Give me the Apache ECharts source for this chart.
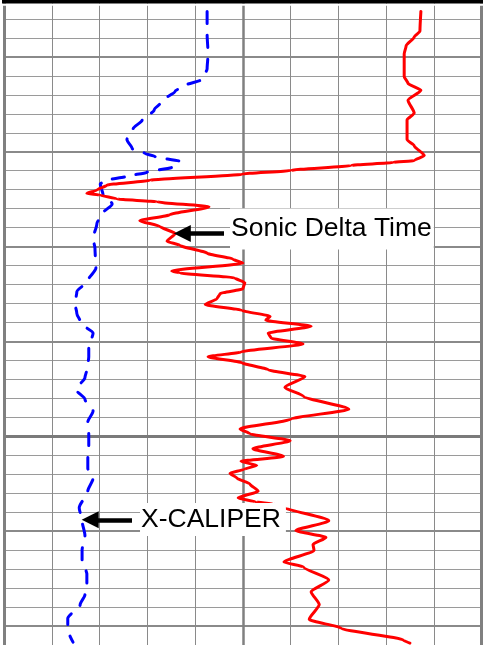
<!DOCTYPE html>
<html><head><meta charset="utf-8">
<script src="https://cdn.jsdelivr.net/npm/echarts@6/dist/echarts.min.js"></script>
<style>html,body{margin:0;padding:0;background:#fff}#c{width:483px;height:645px}</style>
</head><body><div id="c"></div>
<script>
// Depth in track units (one unit per horizontal grid line)
const caliperDepth = [2.60,3.80,4.84,5.62,6.19,6.50,6.81,7.28,7.80,8.32,8.79,9.36,9.83,10.09,10.25,10.51,10.82,11.08,11.29,11.50,11.70,12.28,12.75,13.27,13.79,14.57,15.09,16.13,16.80,17.38,18.00,18.52,19.04,19.56,20.29,20.81,21.49,21.90,22.53,23.05,23.67,24.24,24.92,25.54,26.17,26.69,27.21,27.89,28.77,29.45,30.23,31.01,31.53,32.26,32.78,33.35,33.87,34.60,35.17,35.85];
// X-CALIPER, inches (track 6 - 16)
const caliperValue = [10.25,10.25,10.27,10.25,10.14,9.79,9.58,9.33,9.14,8.89,8.70,8.57,8.68,8.95,9.16,9.68,9.51,8.99,8.57,8.15,8.01,8.07,8.26,8.05,7.94,7.86,7.90,7.92,7.75,7.52,7.48,7.52,7.61,7.86,7.77,7.77,7.73,7.69,7.50,7.69,7.86,7.75,7.77,7.77,7.75,7.75,7.86,7.75,7.57,7.63,7.69,7.63,7.63,7.73,7.73,7.69,7.59,7.33,7.33,7.44];

const sonicDepth = [2.60,3.64,3.95,4.42,4.84,6.03,6.40,6.76,7.28,7.96,8.32,9.36,9.68,10.20,10.46,10.56,10.72,10.98,11.18,11.50,11.76,12.02,12.20,12.28,12.49,12.64,12.90,13.32,13.63,13.94,14.31,14.72,14.93,15.35,15.66,15.87,16.28,16.39,16.65,16.91,17.22,17.48,17.74,18.05,18.36,18.68,18.88,19.20,19.56,19.82,20.13,20.55,20.81,21.12,21.49,21.85,22.42,22.89,23.57,24.09,24.61,24.87,25.23,25.65,26.06,26.32,26.53,26.74,26.95,27.21,27.52,27.89,28.25,28.46,28.56,28.72,29.45,29.97,30.33,30.70,31.01,31.63,31.89,32.57,33.19,33.87,34.65,35.12,35.74,35.90];
// Sonic Delta Time (track 40 - 140)
const sonicValue = [127.3,127.1,125.9,124.2,123.8,123.8,124.6,127.3,124.6,125.9,124.4,124.4,125.9,128.0,125.9,121.5,112.7,100.1,89.8,70.5,61.5,59.4,57.3,60.1,63.6,72.0,82.9,74.7,68.4,72.6,75.8,74.1,76.8,82.5,87.9,90.0,75.1,76.8,88.3,90.4,90.0,85.2,84.6,82.1,89.8,95.7,94.8,104.3,95.3,95.9,102.6,89.6,82.7,89.8,95.3,103.0,98.8,102.7,112.2,100.1,89.4,91.5,99.9,92.1,98.5,89.6,92.9,90.2,87.3,88.8,91.5,93.2,89.0,92.7,96.3,98.6,108.0,101.1,107.4,104.7,104.9,98.6,102.7,108.0,104.3,106.0,103.9,110.6,123.6,125.0];

const majorDepthLines = [5,10,15,20,30,35];
const heavyDepthLines = [25];
const borderValueLines = [6,16];
const centerValueLines = [11];

// Annotations: label text, arrow tail/tip (in each curve's own units), label anchor
const sonicLabel = {text:'Sonic Delta Time', tail:[86.04,14.31], tip:[77.30,14.31], anchor:[87.30,14.07]};
const caliperLabel = {text:'X-CALIPER', tail:[8.676,29.40], tip:[7.800,29.40], anchor:[8.844,29.38]};

const chart = echarts.init(document.getElementById('c'), null, {renderer:'canvas'});

function pairs(v, d){ return v.map((x,i)=>[x, d[i]]); }

const labelStyle = {
  show:true, position:'right', distance:0, formatter:'{b}', color:'#000',
  fontSize:26.5, fontFamily:'"Liberation Sans", Arial, sans-serif', lineHeight:29,
  backgroundColor:'#fff'
};

function annotation(lbl, xIdx, pad){
  return {
    type:'line', xAxisIndex:xIdx, yAxisIndex:0, data:[], silent:true, z:6,
    markLine:{
      silent:true, z:10, animation:false,
      symbol:['none','triangle'], symbolSize:17,
      label:{show:false},
      itemStyle:{color:'#000'},
      lineStyle:{color:'#000', width:4.5, type:'solid', cap:'butt'},
      emphasis:{disabled:true},
      data:[[{coord:lbl.tail},{coord:lbl.tip}]]
    },
    markPoint:{
      silent:true, z:9, animation:false,
      symbol:'rect', symbolSize:0,
      label:Object.assign({}, labelStyle, {padding:pad}),
      data:[{name:lbl.text, coord:lbl.anchor}]
    }
  };
}

const gridLineData = []
  .concat(majorDepthLines.map(v=>({yAxis:v, lineStyle:{width:2, color:'#8a8a8a', type:'solid'}})))
  .concat(heavyDepthLines.map(v=>({yAxis:v, lineStyle:{width:3, color:'#7a7a7a', type:'solid'}})))
  .concat(borderValueLines.map(v=>({xAxis:v, lineStyle:{width:3, color:'#808080', type:'solid'}})))
  .concat(centerValueLines.map(v=>({xAxis:v, lineStyle:{width:2.5, color:'#808080', type:'solid'}})));

const option = {
  animation:false,
  backgroundColor:'#fff',
  grid:{left:4.3, right:1.5, top:-4.52, bottom:-4.0, containLabel:false},
  xAxis:[
    {type:'value', min:6, max:16, interval:1,
     axisLine:{show:false}, axisTick:{show:false}, axisLabel:{show:false},
     splitLine:{show:true, lineStyle:{color:'#8a8a8a', width:1}}},
    {type:'value', min:40, max:140, interval:10, show:false, splitLine:{show:false}}
  ],
  yAxis:{type:'value', inverse:true, min:2, max:36, interval:1,
    axisLine:{show:false}, axisTick:{show:false}, axisLabel:{show:false},
    splitLine:{show:true, lineStyle:{color:'#9a9a9a', width:1}}},
  graphic:[
    {type:'rect', z:100, silent:true, shape:{x:0, y:3.5, width:483, height:2.3}, style:{fill:'#fff'}},
    {type:'rect', z:101, silent:true, shape:{x:2, y:0, width:481, height:3.6}, style:{fill:'#000'}}
  ],
  series:[
    {type:'line', xAxisIndex:0, yAxisIndex:0, data:[], silent:true, z:1,
     markLine:{silent:true, z:1, animation:false, symbol:['none','none'], label:{show:false},
       lineStyle:{type:'solid'}, emphasis:{disabled:true}, data:gridLineData}},
    {name:'X-CALIPER', type:'line', xAxisIndex:0, yAxisIndex:0, z:3,
     data:pairs(caliperValue, caliperDepth), showSymbol:false, symbol:'none',
     smooth:0.25, smoothMonotone:'y',
     lineStyle:{color:'#0000ff', width:3, type:[12,12], cap:'round', join:'round'}},
    {name:'Sonic Delta Time', type:'line', xAxisIndex:1, yAxisIndex:0, z:4,
     data:pairs(sonicValue, sonicDepth), showSymbol:false, symbol:'none',
     smooth:0.2, smoothMonotone:'y',
     lineStyle:{color:'#ff0000', width:3, cap:'round', join:'round'}},
    annotation(sonicLabel, 1, [11,2,1,1]),
    annotation(caliperLabel, 0, [3,5,1,1])
  ]
};
chart.setOption(option);
</script></body></html>
